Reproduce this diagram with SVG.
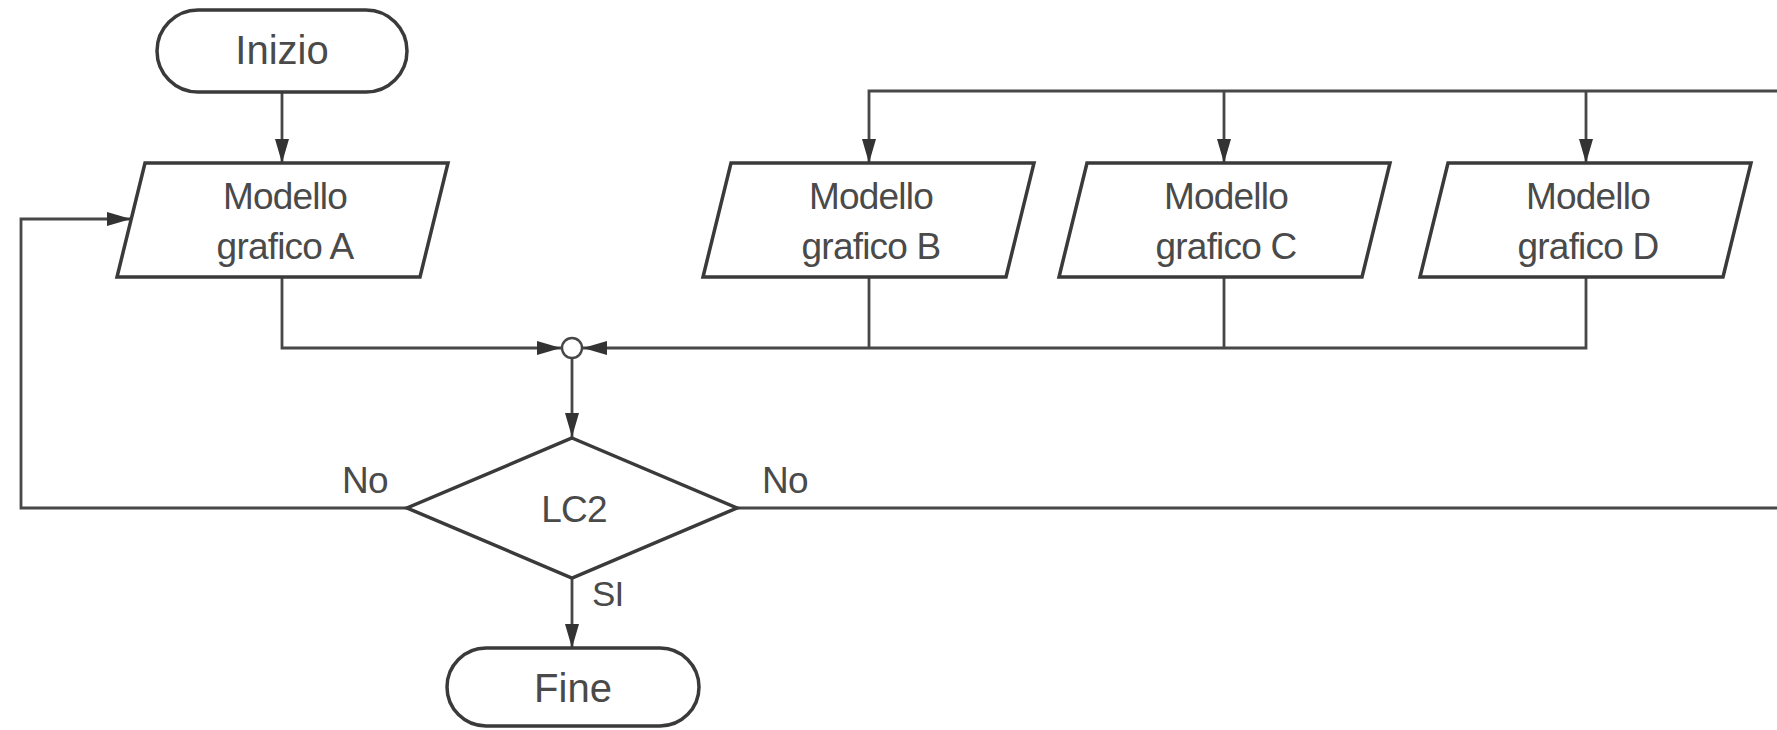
<svg xmlns="http://www.w3.org/2000/svg" width="1777" height="730" viewBox="0 0 1777 730">
<style>
.shape{fill:#fff;stroke:#3a3a3a;stroke-width:3.5;stroke-linejoin:miter}
.ln{fill:none;stroke:#474747;stroke-width:2.8}
.t{font-family:"Liberation Sans",Arial,sans-serif;fill:#4a4a4a;text-anchor:middle}
.tb{font-size:40px}
.tp{font-size:37px;letter-spacing:-0.8px}
.lab{font-family:"Liberation Sans",Arial,sans-serif;fill:#4a4a4a;font-size:37px;letter-spacing:-0.8px}
</style>
<defs>
<marker id="ah" markerUnits="userSpaceOnUse" markerWidth="24" markerHeight="14" refX="24" refY="7" orient="auto">
<path d="M0,0 L24,7 L0,14 z" fill="#333"/>
</marker>
</defs>
<rect width="1777" height="730" fill="#fff"/>
<g id="connectors">
<path class="ln" d="M282,92 V163" marker-end="url(#ah)"/>
<path class="ln" d="M282,277 V348 H561" marker-end="url(#ah)"/>
<path class="ln" d="M1586,277 V348 H583" marker-end="url(#ah)"/>
<path class="ln" d="M869,277 V348"/>
<path class="ln" d="M1224,277 V348"/>
<path class="ln" d="M572,358 V437" marker-end="url(#ah)"/>
<path class="ln" d="M572,578 V648" marker-end="url(#ah)"/>
<path class="ln" d="M407,508 H21 V219 H131" marker-end="url(#ah)"/>
<path class="ln" d="M737,508 H1777"/>
<path class="ln" d="M1777,91 H869 V163" marker-end="url(#ah)"/>
<path class="ln" d="M1224,91 V163" marker-end="url(#ah)"/>
<path class="ln" d="M1586,91 V163" marker-end="url(#ah)"/>
<text class="lab" x="342" y="493">No</text>
<text class="lab" x="762" y="493">No</text>
<text class="lab" x="592" y="606" style="font-size:35px">SI</text>
</g>
<g id="inizio">
<rect class="shape" x="157" y="10" width="250" height="82" rx="41" ry="41"/>
<text class="t tb" x="282" y="64">Inizio</text>
</g>
<g id="modello-a">
<polygon class="shape" points="145,163 448,163 420,277 117,277"/>
<text class="t tp" x="285" y="209">Modello</text>
<text class="t tp" x="285" y="259">grafico A</text>
</g>
<g id="modello-b">
<polygon class="shape" points="731,163 1034,163 1006,277 703,277"/>
<text class="t tp" x="871" y="209">Modello</text>
<text class="t tp" x="871" y="259">grafico B</text>
</g>
<g id="modello-c">
<polygon class="shape" points="1087,163 1390,163 1362,277 1059,277"/>
<text class="t tp" x="1226" y="209">Modello</text>
<text class="t tp" x="1226" y="259">grafico C</text>
</g>
<g id="modello-d">
<polygon class="shape" points="1448,163 1751,163 1723,277 1420,277"/>
<text class="t tp" x="1588" y="209">Modello</text>
<text class="t tp" x="1588" y="259">grafico D</text>
</g>
<g id="junction">
<circle cx="572" cy="348" r="10" fill="#fff" stroke="#474747" stroke-width="2.4"/>
</g>
<g id="lc2">
<polygon class="shape" points="572,438 737,508 572,578 407,508"/>
<text class="t tp" x="574" y="522">LC2</text>
</g>
<g id="fine">
<rect class="shape" x="447" y="648" width="252" height="78" rx="39" ry="39"/>
<text class="t tb" x="573" y="702">Fine</text>
</g>
</svg>
